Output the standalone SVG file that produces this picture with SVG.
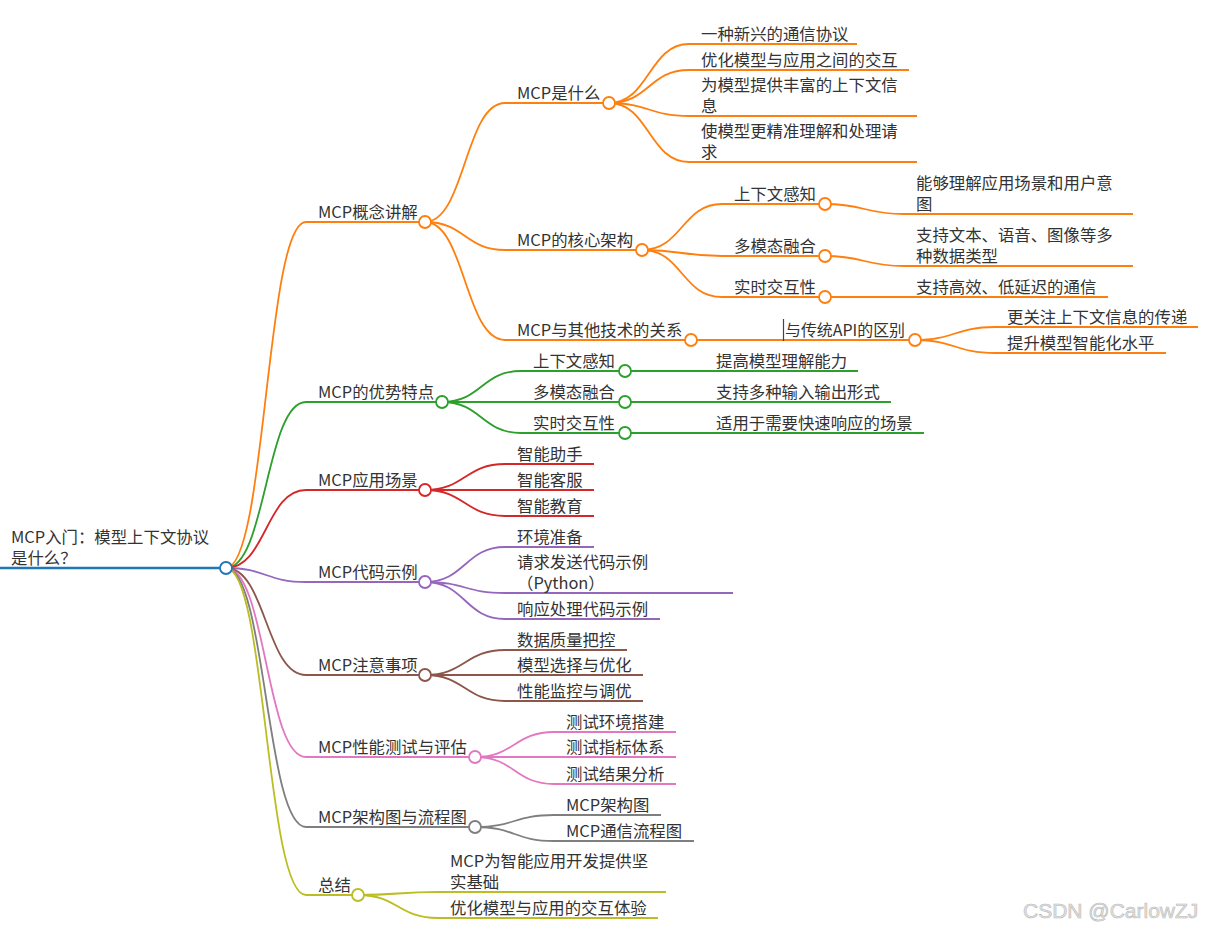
<svg xmlns="http://www.w3.org/2000/svg" width="1208" height="931" viewBox="0 0 1208 931">
<style>
text{font-family:"Noto Sans CJK SC","Noto Sans",sans-serif;font-size:16.4px;fill:#333}
path,line{fill:none;stroke-width:1.8;stroke-linecap:butt}
circle{fill:#fff;stroke-width:1.8}
.b{stroke:#1f77b4}.o{stroke:#ff7f0e}.g{stroke:#2ca02c}.r{stroke:#d62728}.p{stroke:#9467bd}
.br{stroke:#8c564b}.pk{stroke:#e377c2}.gy{stroke:#7f7f7f}.ol{stroke:#bcbd22}
.wm{font-family:"Liberation Sans",Arial,sans-serif;font-size:21px;fill:#e4e4e4;stroke:#b8b8b8;stroke-width:0.6}
</style>
<g id="connectors">
<path class="o" d="M226,568 C266,568 266,222 306,222"/>
<path class="g" d="M226,568 C266,568 266,402 306,402"/>
<path class="r" d="M226,568 C266,568 266,490 306,490"/>
<path class="p" d="M226,568 C266,568 266,582 306,582"/>
<path class="br" d="M226,568 C266,568 266,675 306,675"/>
<path class="pk" d="M226,568 C266,568 266,757 306,757"/>
<path class="gy" d="M226,568 C266,568 266,827 306,827"/>
<path class="ol" d="M226,568 C266,568 266,895 306,895"/>
<path class="o" d="M425,222 C465,222 465,103 505,103"/>
<path class="o" d="M425,222 C465,222 465,250 505,250"/>
<path class="o" d="M425,222 C465,222 465,340 505,340"/>
<path class="o" d="M609,103 C649,103 649,44 689,44"/>
<path class="o" d="M609,103 C649,103 649,70 689,70"/>
<path class="o" d="M609,103 C649,103 649,116 689,116"/>
<path class="o" d="M609,103 C649,103 649,162 689,162"/>
<path class="o" d="M642,250 C682,250 682,204 722,204"/>
<path class="o" d="M642,250 C682,250 682,256 722,256"/>
<path class="o" d="M642,250 C682,250 682,297 722,297"/>
<path class="o" d="M825,204 C864.5,204 864.5,214 904,214"/>
<path class="o" d="M825,256 C864.5,256 864.5,266 904,266"/>
<path class="o" d="M825,297 L904,297"/>
<path class="o" d="M691,340 L771,340"/>
<path class="o" d="M915,340 C955,340 955,327 995,327"/>
<path class="o" d="M915,340 C955,340 955,353 995,353"/>
<path class="g" d="M442,402 C481.5,402 481.5,371 521,371"/>
<path class="g" d="M442,402 L521,402"/>
<path class="g" d="M442,402 C481.5,402 481.5,433 521,433"/>
<path class="g" d="M625,371 L704,371"/>
<path class="g" d="M625,402 L704,402"/>
<path class="g" d="M625,433 L704,433"/>
<path class="r" d="M425,490 C465,490 465,464 505,464"/>
<path class="r" d="M425,490 L505,490"/>
<path class="r" d="M425,490 C465,490 465,516 505,516"/>
<path class="p" d="M425,582 C465,582 465,547 505,547"/>
<path class="p" d="M425,582 C465,582 465,593 505,593"/>
<path class="p" d="M425,582 C465,582 465,619 505,619"/>
<path class="br" d="M425,675 C465,675 465,650 505,650"/>
<path class="br" d="M425,675 L505,675"/>
<path class="br" d="M425,675 C465,675 465,701 505,701"/>
<path class="pk" d="M475,757 C514.5,757 514.5,732 554,732"/>
<path class="pk" d="M475,757 L554,757"/>
<path class="pk" d="M475,757 C514.5,757 514.5,784 554,784"/>
<path class="gy" d="M475,827 C514.5,827 514.5,815 554,815"/>
<path class="gy" d="M475,827 C514.5,827 514.5,841 554,841"/>
<path class="ol" d="M358,895 C398,895 398,892 438,892"/>
<path class="ol" d="M358,895 C398,895 398,918 438,918"/>
</g>
<g id="root">
<line class="b" x1="0" y1="568" x2="220" y2="568" style="stroke-width:2.5"/>
<circle class="b" cx="226" cy="568" r="6"/>
<text x="11" y="543">MCP入门：模型上下文协议</text>
<text x="11" y="564">是什么？</text>
</g>
<g id="n1">
<line class="o" x1="306" y1="222" x2="419" y2="222"/><circle class="o" cx="425" cy="222" r="6"/>
<text x="318" y="218">MCP概念讲解</text>
</g>
<g id="n1-1">
<line class="o" x1="505" y1="103" x2="603" y2="103"/><circle class="o" cx="609" cy="103" r="6"/>
<text x="517" y="99">MCP是什么</text>
</g>
<g id="n1-1-1"><line class="o" x1="689" y1="44" x2="857" y2="44"/><text x="701" y="40">一种新兴的通信协议</text></g>
<g id="n1-1-2"><line class="o" x1="689" y1="70" x2="909" y2="70"/><text x="701" y="66">优化模型与应用之间的交互</text></g>
<g id="n1-1-3"><line class="o" x1="689" y1="116" x2="917" y2="116"/><text x="701" y="91">为模型提供丰富的上下文信</text><text x="701" y="112">息</text></g>
<g id="n1-1-4"><line class="o" x1="689" y1="162" x2="917" y2="162"/><text x="701" y="137">使模型更精准理解和处理请</text><text x="701" y="158">求</text></g>
<g id="n1-2">
<line class="o" x1="505" y1="250" x2="636" y2="250"/><circle class="o" cx="642" cy="250" r="6"/>
<text x="517" y="246">MCP的核心架构</text>
</g>
<g id="n1-2-1"><line class="o" x1="722" y1="204" x2="819" y2="204"/><circle class="o" cx="825" cy="204" r="6"/><text x="734" y="200">上下文感知</text></g>
<g id="n1-2-1-1"><line class="o" x1="904" y1="214" x2="1133" y2="214"/><text x="916" y="189">能够理解应用场景和用户意</text><text x="916" y="210">图</text></g>
<g id="n1-2-2"><line class="o" x1="722" y1="256" x2="819" y2="256"/><circle class="o" cx="825" cy="256" r="6"/><text x="734" y="252">多模态融合</text></g>
<g id="n1-2-2-1"><line class="o" x1="904" y1="266" x2="1133" y2="266"/><text x="916" y="241">支持文本、语音、图像等多</text><text x="916" y="262">种数据类型</text></g>
<g id="n1-2-3"><line class="o" x1="722" y1="297" x2="819" y2="297"/><circle class="o" cx="825" cy="297" r="6"/><text x="734" y="293">实时交互性</text></g>
<g id="n1-2-3-1"><line class="o" x1="904" y1="297" x2="1108" y2="297"/><text x="916" y="293">支持高效、低延迟的通信</text></g>
<g id="n1-3">
<line class="o" x1="505" y1="340" x2="685" y2="340"/><circle class="o" cx="691" cy="340" r="6"/>
<text x="517" y="336">MCP与其他技术的关系</text>
</g>
<g id="n1-3-1">
<line class="o" x1="771" y1="340" x2="909" y2="340"/><circle class="o" cx="915" cy="340" r="6"/>
<line x1="783.5" y1="319" x2="783.5" y2="341" style="stroke:#444;stroke-width:1.2"/>
<text x="785" y="336" style="font-size:15.5px" textLength="120" lengthAdjust="spacingAndGlyphs">与传统API的区别</text>
</g>
<g id="n1-3-1-1"><line class="o" x1="995" y1="327" x2="1198" y2="327"/><text x="1007" y="323">更关注上下文信息的传递</text></g>
<g id="n1-3-1-2"><line class="o" x1="995" y1="353" x2="1166" y2="353"/><text x="1007" y="349">提升模型智能化水平</text></g>
<g id="n2">
<line class="g" x1="306" y1="402" x2="436" y2="402"/><circle class="g" cx="442" cy="402" r="6"/>
<text x="318" y="398">MCP的优势特点</text>
</g>
<g id="n2-1"><line class="g" x1="521" y1="371" x2="619" y2="371"/><circle class="g" cx="625" cy="371" r="6"/><text x="533" y="367">上下文感知</text></g>
<g id="n2-1-1"><line class="g" x1="704" y1="371" x2="858" y2="371"/><text x="716" y="367">提高模型理解能力</text></g>
<g id="n2-2"><line class="g" x1="521" y1="402" x2="619" y2="402"/><circle class="g" cx="625" cy="402" r="6"/><text x="533" y="398">多模态融合</text></g>
<g id="n2-2-1"><line class="g" x1="704" y1="402" x2="891" y2="402"/><text x="716" y="398">支持多种输入输出形式</text></g>
<g id="n2-3"><line class="g" x1="521" y1="433" x2="619" y2="433"/><circle class="g" cx="625" cy="433" r="6"/><text x="533" y="429">实时交互性</text></g>
<g id="n2-3-1"><line class="g" x1="704" y1="433" x2="924" y2="433"/><text x="716" y="429">适用于需要快速响应的场景</text></g>
<g id="n3">
<line class="r" x1="306" y1="490" x2="419" y2="490"/><circle class="r" cx="425" cy="490" r="6"/>
<text x="318" y="486">MCP应用场景</text>
</g>
<g id="n3-1"><line class="r" x1="505" y1="464" x2="594" y2="464"/><text x="517" y="460">智能助手</text></g>
<g id="n3-2"><line class="r" x1="505" y1="490" x2="594" y2="490"/><text x="517" y="486">智能客服</text></g>
<g id="n3-3"><line class="r" x1="505" y1="516" x2="594" y2="516"/><text x="517" y="512">智能教育</text></g>
<g id="n4">
<line class="p" x1="306" y1="582" x2="419" y2="582"/><circle class="p" cx="425" cy="582" r="6"/>
<text x="318" y="578">MCP代码示例</text>
</g>
<g id="n4-1"><line class="p" x1="505" y1="547" x2="594" y2="547"/><text x="517" y="543">环境准备</text></g>
<g id="n4-2"><line class="p" x1="505" y1="593" x2="733" y2="593"/><text x="517" y="568">请求发送代码示例</text><text x="517" y="589">（Python）</text></g>
<g id="n4-3"><line class="p" x1="505" y1="619" x2="660" y2="619"/><text x="517" y="615">响应处理代码示例</text></g>
<g id="n5">
<line class="br" x1="306" y1="675" x2="419" y2="675"/><circle class="br" cx="425" cy="675" r="6"/>
<text x="318" y="671">MCP注意事项</text>
</g>
<g id="n5-1"><line class="br" x1="505" y1="650" x2="627" y2="650"/><text x="517" y="646">数据质量把控</text></g>
<g id="n5-2"><line class="br" x1="505" y1="675" x2="643" y2="675"/><text x="517" y="671">模型选择与优化</text></g>
<g id="n5-3"><line class="br" x1="505" y1="701" x2="643" y2="701"/><text x="517" y="697">性能监控与调优</text></g>
<g id="n6">
<line class="pk" x1="306" y1="757" x2="469" y2="757"/><circle class="pk" cx="475" cy="757" r="6"/>
<text x="318" y="753">MCP性能测试与评估</text>
</g>
<g id="n6-1"><line class="pk" x1="554" y1="732" x2="676" y2="732"/><text x="566" y="728">测试环境搭建</text></g>
<g id="n6-2"><line class="pk" x1="554" y1="757" x2="676" y2="757"/><text x="566" y="753">测试指标体系</text></g>
<g id="n6-3"><line class="pk" x1="554" y1="784" x2="676" y2="784"/><text x="566" y="780">测试结果分析</text></g>
<g id="n7">
<line class="gy" x1="306" y1="827" x2="469" y2="827"/><circle class="gy" cx="475" cy="827" r="6"/>
<text x="318" y="823">MCP架构图与流程图</text>
</g>
<g id="n7-1"><line class="gy" x1="554" y1="815" x2="661" y2="815"/><text x="566" y="811">MCP架构图</text></g>
<g id="n7-2"><line class="gy" x1="554" y1="841" x2="694" y2="841"/><text x="566" y="837">MCP通信流程图</text></g>
<g id="n8">
<line class="ol" x1="306" y1="895" x2="352" y2="895"/><circle class="ol" cx="358" cy="895" r="6"/>
<text x="318" y="891">总结</text>
</g>
<g id="n8-1"><line class="ol" x1="438" y1="892" x2="666" y2="892"/><text x="450" y="867">MCP为智能应用开发提供坚</text><text x="450" y="888">实基础</text></g>
<g id="n8-2"><line class="ol" x1="438" y1="918" x2="658" y2="918"/><text x="450" y="914">优化模型与应用的交互体验</text></g>
<text class="wm" x="1023" y="918">CSDN @CarlowZJ</text>
</svg>
